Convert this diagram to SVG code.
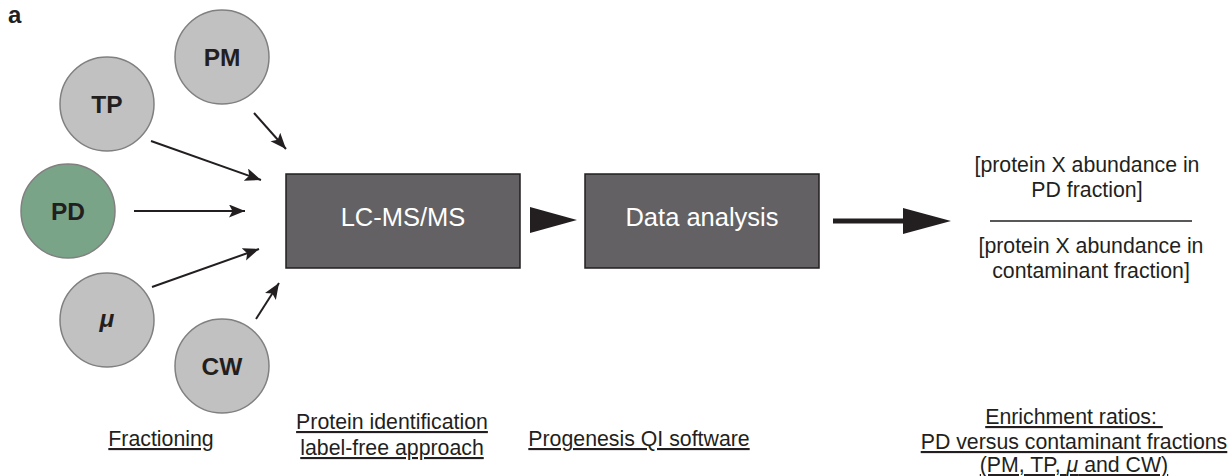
<svg xmlns="http://www.w3.org/2000/svg" width="1230" height="476" viewBox="0 0 1230 476">
<style>
.circ{fill:#c1c1c1;stroke:#808080;stroke-width:1.5}
.pd{fill:#7aa488;stroke:#808080;stroke-width:1.5}
.nl{font-family:"Liberation Sans",Arial,sans-serif;font-weight:bold;font-size:24.5px;fill:#231f20;text-anchor:middle}
.box{fill:#636163;stroke:#231f20;stroke-width:1.5}
.bl{font-family:"Liberation Sans",Arial,sans-serif;font-size:25.5px;fill:#ffffff;text-anchor:middle}
.lab{font-family:"Liberation Sans",Arial,sans-serif;font-size:21.3px;fill:#231f20;text-anchor:middle}
.ul{text-decoration:underline}
.conn{stroke:#231f20;stroke-width:2;fill:none}
</style>
<defs>
<marker id="ah" markerUnits="userSpaceOnUse" markerWidth="18" markerHeight="14" refX="16" refY="6.5" orient="auto">
<path d="M0,0 L16,6.5 L0,13 L3.5,6.5 z" fill="#231f20"/>
</marker>
</defs>
<text x="8" y="23" font-family="Liberation Sans,Arial,sans-serif" font-weight="bold" font-size="24" fill="#231f20">a</text>
<g id="node-PM"><circle class="circ" cx="222" cy="57" r="47"/><text class="nl" x="222" y="66">PM</text></g>
<g id="node-TP"><circle class="circ" cx="107" cy="104" r="47"/><text class="nl" x="107" y="113">TP</text></g>
<g id="node-PD"><circle class="pd" cx="68" cy="211" r="47"/><text class="nl" x="68" y="220">PD</text></g>
<g id="node-mu"><circle class="circ" cx="107" cy="320" r="47"/><text class="nl" x="107" y="327" font-style="italic">μ</text></g>
<g id="node-CW"><circle class="circ" cx="222" cy="366" r="47"/><text class="nl" x="222" y="375">CW</text></g>
<g id="node-LCMS"><rect class="box" x="286" y="174" width="234" height="94"/><text class="bl" x="403" y="226">LC-MS/MS</text></g>
<g id="node-DA"><rect class="box" x="585" y="174" width="234" height="94"/><text class="bl" x="702" y="226">Data analysis</text></g>
<g id="node-ratio">
<text class="lab" x="1087" y="172">[protein X abundance in</text>
<text class="lab" x="1087" y="197">PD fraction]</text>
<line x1="990" y1="221" x2="1192" y2="221" stroke="#231f20" stroke-width="1.6"/>
<text class="lab" x="1091" y="253">[protein X abundance in</text>
<text class="lab" x="1091" y="278">contaminant fraction]</text>
</g>
<g id="connectors">
<line class="conn" x1="254" y1="113" x2="286" y2="149" marker-end="url(#ah)"/>
<line class="conn" x1="151" y1="141" x2="261" y2="180" marker-end="url(#ah)"/>
<line class="conn" x1="134" y1="211" x2="245" y2="211" marker-end="url(#ah)"/>
<line class="conn" x1="152" y1="287" x2="259" y2="249" marker-end="url(#ah)"/>
<line class="conn" x1="256" y1="319" x2="279" y2="283" marker-end="url(#ah)"/>
<polygon points="530,207 577,220 530,233" fill="#231f20"/>
<line x1="833" y1="221" x2="906" y2="221" stroke="#231f20" stroke-width="5"/>
<polygon points="903,208 951,221 903,234" fill="#231f20"/>
</g>
<g id="labels">
<text class="lab ul" x="161" y="446">Fractioning</text>
<text class="lab ul" x="392" y="429">Protein identification</text>
<text class="lab ul" x="392" y="455">label-free approach</text>
<text class="lab ul" x="639" y="446">Progenesis QI software</text>
<text class="lab ul" x="1074" y="424" xml:space="preserve">Enrichment ratios: </text>
<text class="lab ul" x="1074" y="449">PD versus contaminant fractions</text>
<text class="lab ul" x="1074" y="472">(PM, TP, <tspan font-style="italic">μ</tspan> and CW)</text>
</g>
</svg>
